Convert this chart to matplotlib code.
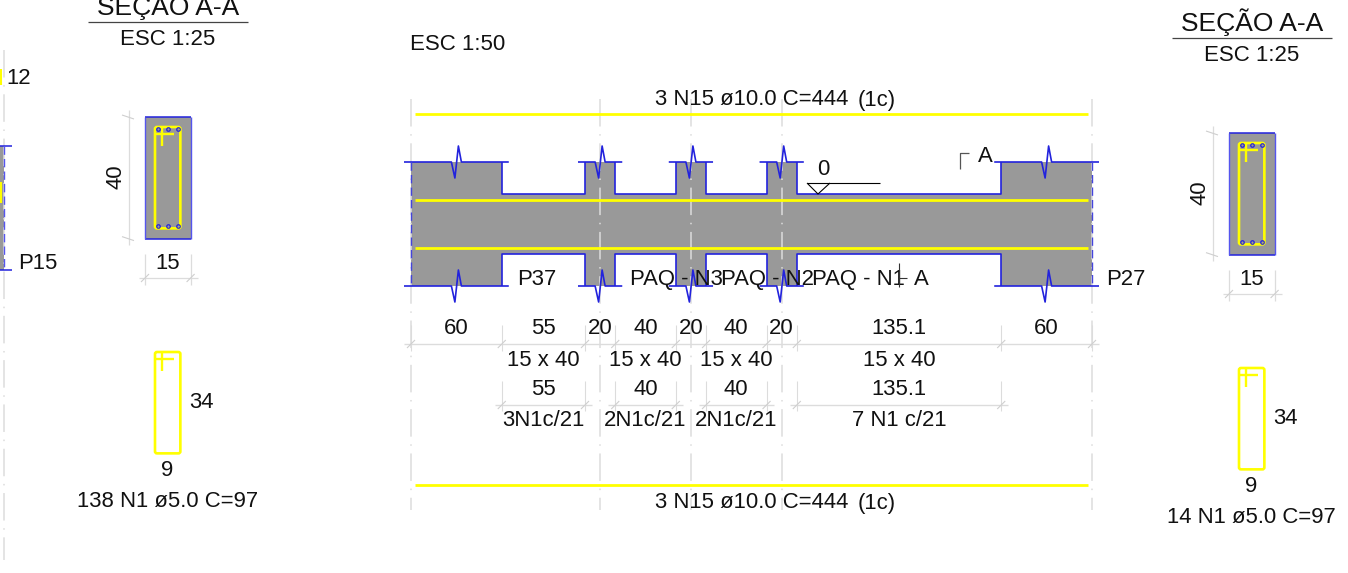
import numpy as np
import matplotlib
matplotlib.use('Agg')
import matplotlib.pyplot as plt
from matplotlib.patches import Polygon, Rectangle, FancyBboxPatch

plt.rcParams['font.family'] = ['Liberation Sans', 'DejaVu Sans']

# values (cm)
span_cm = [60, 55, 20, 40, 20, 40, 20, 135.1, 60]
span_labels = ['60', '55', '20', '40', '20', '40', '20', '135.1', '60']
column_idx = [0, 2, 4, 6, 8]
opening_idx = [1, 3, 5, 7]
opening_sizes = ['15 x 40', '15 x 40', '15 x 40', '15 x 40']
opening_spans = ['55', '40', '40', '135.1']
stirrup_labels = ['3N1c/21', '2N1c/21', '2N1c/21', '7 N1 c/21']
names = ['P37', 'PAQ - N3', 'PAQ - N2', 'PAQ - N1', 'P27']
bar_label = '3 N15 ø10.0 C=444'
sec_w, sec_h = 15, 40
stir_w, stir_h = 9, 34

GRAY = '#999999'
BLUE = '#2222dd'
YEL = '#ffff00'
DIM = '#dcdcdc'
FS = 15.9

fig = plt.figure(figsize=(13.48, 5.73), dpi=100)
ax = fig.add_axes([0, 0, 1, 1])
ax.set_xlim(0, 1348)
ax.set_ylim(573, 0)
ax.axis('off')


def txt(x, y, s, ha='center', size=FS, rot=0):
    ax.text(x, y + 1.5, s, ha=ha, va='center', fontsize=size, color='#111111', rotation=rot)


def line(xs, ys, c='black', lw=0.8, z=3, **kw):
    ax.plot(xs, ys, color=c, lw=lw, zorder=z, solid_capstyle='butt', **kw)


def tick(x, y, c='#cfcfcf'):
    line([x - 4, x + 4], [y + 4, y - 4], c=c, lw=0.8)


def center_line(x, y0, y1):
    ax.plot([x, x], [y0, y1], color=DIM, lw=1.1, zorder=2, dashes=(18, 5, 1, 5))


# beam
beam_x0, beam_top, beam_bot = 411, 162, 286
rec_top, rec_bot = 194, 254
px_cm = 681 / sum(span_cm)
edges = beam_x0 + np.cumsum([0] + span_cm) * px_cm
mids = (edges[:-1] + edges[1:]) / 2

pts_top = [(edges[0], beam_top)]
for i in opening_idx:
    pts_top += [(edges[i], beam_top), (edges[i], rec_top), (edges[i + 1], rec_top), (edges[i + 1], beam_top)]
pts_top.append((edges[-1], beam_top))
pts_bot = [(x, beam_top + beam_bot - y if y == beam_top else (rec_bot if y == rec_top else y)) for x, y in pts_top]
ax.add_patch(Polygon(pts_top + pts_bot[::-1], closed=True, fc=GRAY, ec='none', zorder=1))

# blue outline with the break marks
for i in opening_idx:
    line([edges[i], edges[i], edges[i + 1], edges[i + 1]], [beam_top, rec_top, rec_top, beam_top], c=BLUE, lw=1.2)
    line([edges[i], edges[i], edges[i + 1], edges[i + 1]], [beam_bot, rec_bot, rec_bot, beam_bot], c=BLUE, lw=1.2)
for i in column_idx:
    cx = mids[i]
    for y in (beam_top, beam_bot):
        line([edges[i] - 7, cx - 5, cx - 1.5, cx + 2, cx + 5, edges[i + 1] + 7],
             [y, y, y + 16, y - 16, y, y], c=BLUE, lw=1.2)
for x in (edges[0], edges[-1]):
    ax.plot([x, x], [beam_top, beam_bot], color='#4444dd', lw=1.0, zorder=3, dashes=(6, 3))

# bars
for y in (114, 200, 248, 485):
    line([415, 1088], [y, y], c=YEL, lw=2, z=5)

# axis lines
for i in [0, 2, 4, 6]:
    x = mids[i] if i else edges[0]
    center_line(x, 99, 510)
center_line(edges[-1], 99, 510)
center_line(4, 50, 560)

# dimension rows
line([edges[0] - 7, edges[-1] + 7], [344, 344], c=DIM, lw=1)
for x in edges:
    line([x, x], [325, 351], c=DIM, lw=0.8)
    tick(x, 344)
for i, lab in enumerate(span_labels):
    txt(mids[i], 327, lab)
for i, a, b, c in zip(opening_idx, opening_sizes, opening_spans, stirrup_labels):
    x0, x1 = edges[i], edges[i + 1]
    line([x0 - 7, x1 + 7], [405, 405], c=DIM, lw=1)
    for x in (x0, x1):
        line([x, x], [381, 411], c=DIM, lw=0.8)
        tick(x, 405)
    txt(mids[i], 359, a)
    txt(mids[i], 388, b)
    txt(mids[i], 419, c)

# labels on the beam
for x, s in zip([517, 630, 721, 812, 1106], names):
    txt(x, 278, s, ha='left')
txt(921, 278, 'A')
for y in (98, 501):
    txt(752, y, bar_label)
    txt(858, y + 1, '(1c)', ha='left')
txt(410, 43, 'ESC 1:50', ha='left', size=16)

# level mark and cut marks
txt(823, 168, '0')
line([807, 880], [183, 183], lw=0.8)
line([807, 818, 830], [183, 194, 183], lw=0.8)
line([960, 960, 969], [169, 153, 153], c='#555555', lw=0.9)
txt(985, 155, 'A')
line([899, 899], [263, 287], c='#333333', lw=0.8)
line([899, 907], [278, 278], c='#333333', lw=0.8)


def section(ox, oy, qty):
    s = 3.04
    w, h = sec_w * s, sec_h * s
    x0, y0 = 145 + ox, 117 + oy
    ax.add_patch(Rectangle((x0, y0), w, h, fc=GRAY, ec='none', zorder=1))
    line([x0, x0 + w], [y0, y0], c=BLUE, lw=1.1)
    line([x0, x0 + w], [y0 + h, y0 + h], c=BLUE, lw=1.1)
    for x in (x0, x0 + w):
        line([x, x], [y0, y0 + h], c='#5555ee', lw=1)
    # stirrup in the section and its detail below
    sw, sh = stir_w * s, stir_h * s
    for sx, sy in ((154 + ox, 126 + oy), (154 + ox, 351 + oy)):
        ax.add_patch(FancyBboxPatch((sx + 1, sy + 1), sw - 2, sh - 2, boxstyle='round,pad=0,rounding_size=2',
                                    fc='none', ec=YEL, lw=1.9, zorder=5))
        line([sx, sx + 20], [sy + 8, sy + 8], c=YEL, lw=1.7, z=5)
        line([sx + 8, sx + 8], [sy, sy + 20], c=YEL, lw=1.7, z=5)
    for dx in (158, 168, 178):
        for dy in (129, 226):
            ax.plot(dx + ox, dy + oy, 'o', ms=2.5, mfc='none', mec=BLUE, mew=0.9, zorder=6)
    # dimensions
    line([129 + ox, 129 + ox], [110 + oy, 245 + oy], c=DIM, lw=0.9)
    for y in (y0, y0 + h):
        line([122 + ox, 134 + ox], [y - 2, y + 2], c='#cfcfcf', lw=0.8)
    line([139 + ox, 198 + ox], [278 + oy, 278 + oy], c=DIM, lw=0.9)
    for x in (x0, x0 + w):
        line([x, x], [254 + oy, 285 + oy], c=DIM, lw=0.9)
        tick(x, 278 + oy)
    txt(116 + ox, 175.5 + oy, str(sec_h), rot=90)
    txt(167.5 + ox, 262 + oy, str(sec_w))
    txt(189 + ox, 401 + oy, str(stir_h), ha='left')
    txt(167 + ox, 469 + oy, str(stir_w))
    txt(167.5 + ox, 500 + oy, qty + ' N1 ø5.0 C=97')
    # title
    txt(168 + ox, 5 + oy, 'SEÇÃO A-A', size=19)
    line([88 + ox, 248 + ox], [22 + oy, 22 + oy], c='#444444', lw=0.9)
    txt(167.5 + ox, 38 + oy, 'ESC 1:25', size=16)


section(0, 0, '138')
section(1084, 16, '14')

# piece of the neighbouring beam at the left edge
ax.add_patch(Rectangle((0, 146), 4, 124, fc=GRAY, ec='none', zorder=1))
line([0, 12], [146, 146], c=BLUE, lw=1.1)
line([0, 12], [270, 270], c=BLUE, lw=1.1)
ax.plot([4, 4], [146, 270], color='#5555ee', lw=1, dashes=(6, 3), zorder=3)
line([0.5, 0.5], [69, 85], c=YEL, lw=1.5, z=5)
line([0.5, 0.5], [182, 203], c=YEL, lw=1.5, z=5)
txt(6, 77, '12', ha='left')
txt(18, 262, 'P15', ha='left')

fig.savefig('out.png', dpi=100)
